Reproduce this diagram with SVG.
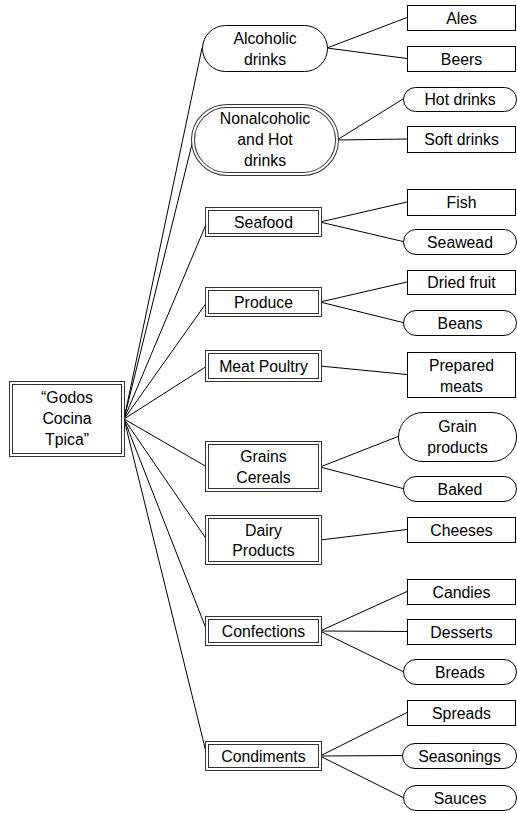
<svg xmlns="http://www.w3.org/2000/svg" width="517" height="813" viewBox="0 0 517 813">
<style>
.s{fill:#fff;stroke:#000;stroke-width:1}
.dbo{fill:#fff;stroke:#333;stroke-width:4}
.dbi{fill:none;stroke:#fff;stroke-width:2}
.e{fill:none;stroke:#000;stroke-width:1}
text{font-family:"Liberation Sans","DejaVu Sans",sans-serif;font-size:15.8px;fill:#000;text-anchor:middle}
</style>
<rect width="517" height="813" fill="#fff"/>
<g id="connectors">
<path class="e" d="M124,419L202,48M124,419L193,140M124,419L207,222M124,419L207,302M124,419L207,366M124,419L207,467M124,419L207,540M124,419L207,631M124,419L207,756"/>
<path class="e" d="M327,48L407,17.5M327,48L407,58.5M337,140L403,99M337,140L407,139M320,222L407,202M320,222L403,241.5M320,302L407,282M320,302L403,322.5M320,366L407,374.5M320,467L398,436.5M320,467L403,488.5M320,540L407,529.5M320,631L407,591.5M320,631L407,631.5M320,631L403,671.5M320,756L407,712.5M320,756L402,755.5M320,756L403,797.5"/>
</g>
<g id="root"><rect class="dbo" x="11" y="383" width="112" height="72"/><rect class="dbi" x="11" y="383" width="112" height="72"/><text x="67" y="403">“Godos</text><text x="67" y="424">Cocina</text><text x="67" y="445">Tpica”</text></g>
<g id="alcoholic" transform="translate(0.5,0.5)"><rect class="s" x="202" y="25" width="125" height="46" rx="23"/><text x="264.5" y="43">Alcoholic</text><text x="264.5" y="64">drinks</text></g>
<g id="nonalcoholic"><rect class="dbo" x="193" y="106" width="144" height="68" rx="34"/><rect class="dbi" x="193" y="106" width="144" height="68" rx="34"/><text x="265" y="124">Nonalcoholic</text><text x="265" y="145">and Hot</text><text x="265" y="166">drinks</text></g>
<g id="seafood"><rect class="dbo" x="207" y="209" width="113" height="26"/><rect class="dbi" x="207" y="209" width="113" height="26"/><text x="263.5" y="227.5">Seafood</text></g>
<g id="produce"><rect class="dbo" x="207" y="289" width="113" height="26"/><rect class="dbi" x="207" y="289" width="113" height="26"/><text x="263.5" y="307.5">Produce</text></g>
<g id="meat"><rect class="dbo" x="207" y="352" width="113" height="28"/><rect class="dbi" x="207" y="352" width="113" height="28"/><text x="263.5" y="371.5">Meat Poultry</text></g>
<g id="grains"><rect class="dbo" x="207" y="443" width="113" height="47"/><rect class="dbi" x="207" y="443" width="113" height="47"/><text x="263.5" y="462">Grains</text><text x="263.5" y="483">Cereals</text></g>
<g id="dairy"><rect class="dbo" x="207" y="517" width="113" height="46"/><rect class="dbi" x="207" y="517" width="113" height="46"/><text x="263.5" y="536">Dairy</text><text x="263.5" y="556">Products</text></g>
<g id="confections"><rect class="dbo" x="207" y="618" width="113" height="26"/><rect class="dbi" x="207" y="618" width="113" height="26"/><text x="263.5" y="636.5">Confections</text></g>
<g id="condiments"><rect class="dbo" x="207" y="743" width="113" height="26"/><rect class="dbi" x="207" y="743" width="113" height="26"/><text x="263.5" y="761.5">Condiments</text></g>
<g id="ales" transform="translate(0.5,0.5)"><rect class="s" x="407" y="5" width="108" height="25"/><text x="461" y="23">Ales</text></g>
<g id="beers" transform="translate(0.5,0.5)"><rect class="s" x="407" y="46" width="108" height="25"/><text x="461" y="64">Beers</text></g>
<g id="hotdrinks" transform="translate(0.5,0.5)"><rect class="s" x="403" y="87" width="113" height="24" rx="12"/><text x="459.5" y="104.5">Hot drinks</text></g>
<g id="softdrinks" transform="translate(0.5,0.5)"><rect class="s" x="407" y="126" width="108" height="26"/><text x="461" y="144.5">Soft drinks</text></g>
<g id="fish" transform="translate(0.5,0.5)"><rect class="s" x="407" y="189" width="108" height="26"/><text x="461" y="207.5">Fish</text></g>
<g id="seawead" transform="translate(0.5,0.5)"><rect class="s" x="403" y="229" width="113" height="25" rx="12.5"/><text x="459.5" y="247">Seawead</text></g>
<g id="driedfruit" transform="translate(0.5,0.5)"><rect class="s" x="407" y="270" width="108" height="24"/><text x="461" y="287.5">Dried fruit</text></g>
<g id="beans" transform="translate(0.5,0.5)"><rect class="s" x="403" y="310" width="113" height="25" rx="12.5"/><text x="459.5" y="328">Beans</text></g>
<g id="prepared" transform="translate(0.5,0.5)"><rect class="s" x="407" y="352" width="108" height="45"/><text x="461" y="370">Prepared</text><text x="461" y="391">meats</text></g>
<g id="grainproducts" transform="translate(0.5,0.5)"><rect class="s" x="398" y="412" width="118" height="49" rx="24.5"/><text x="457" y="431">Grain</text><text x="457" y="452">products</text></g>
<g id="baked" transform="translate(0.5,0.5)"><rect class="s" x="403" y="476" width="113" height="25" rx="12.5"/><text x="459.5" y="494">Baked</text></g>
<g id="cheeses" transform="translate(0.5,0.5)"><rect class="s" x="407" y="517" width="108" height="25"/><text x="461" y="535">Cheeses</text></g>
<g id="candies" transform="translate(0.5,0.5)"><rect class="s" x="407" y="579" width="108" height="25"/><text x="461" y="597">Candies</text></g>
<g id="desserts" transform="translate(0.5,0.5)"><rect class="s" x="407" y="619" width="108" height="25"/><text x="461" y="637">Desserts</text></g>
<g id="breads" transform="translate(0.5,0.5)"><rect class="s" x="403" y="659" width="113" height="25" rx="12.5"/><text x="459.5" y="677">Breads</text></g>
<g id="spreads" transform="translate(0.5,0.5)"><rect class="s" x="407" y="700" width="108" height="25"/><text x="461" y="718">Spreads</text></g>
<g id="seasonings" transform="translate(0.5,0.5)"><rect class="s" x="402" y="743" width="114" height="25" rx="12.5"/><text x="459" y="761">Seasonings</text></g>
<g id="sauces" transform="translate(0.5,0.5)"><rect class="s" x="403" y="785" width="113" height="25" rx="12.5"/><text x="459.5" y="803">Sauces</text></g>
</svg>
